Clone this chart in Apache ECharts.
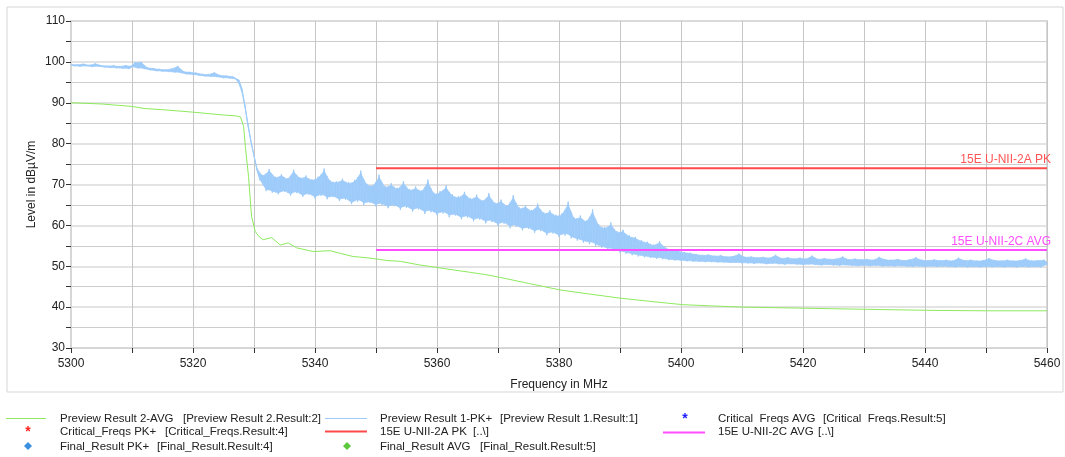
<!DOCTYPE html>
<html>
<head>
<meta charset="utf-8">
<script src="https://cdn.jsdelivr.net/npm/echarts@6/dist/echarts.min.js"></script>
<style>
html,body{margin:0;padding:0;background:#fff;}
#chart{width:1065px;height:457px;}
</style>
</head>
<body>
<div id="chart"></div>
<script>
// ---- DATA ----
const xTickLabels = [5300, 5320, 5340, 5360, 5380, 5400, 5420, 5440, 5460];
const yTickLabels = [30, 40, 50, 60, 70, 80, 90, 100, 110];

// Preview Result 1-PK+ : sampled every 0.5 MHz starting at 5300 MHz
const pkStart = 5300;
const pkStep = 0.5;
const pkLevel = [
  99.4, 99.0, 99.3, 98.9, 99.5, 99.0, 99.2, 98.8, 99.6, 98.9,
  99.1, 98.7, 99.0, 98.6, 99.1, 98.5, 98.9, 98.4, 99.2, 98.3,
  98.8, 99.9, 98.4, 100.0, 98.3, 98.6, 98.0, 98.4, 97.8, 98.2,
  97.7, 98.1, 97.6, 98.3, 97.4, 99.0, 97.3, 97.6, 97.0, 97.5,
  96.9, 97.3, 96.7, 97.0, 96.5, 96.9, 96.4, 97.4, 96.3, 96.7,
  96.1, 96.6, 96.0, 96.4, 95.8, 95.6, 93.5, 89.5, 84.5, 80.5,
  77.0, 73.5, 71.0, 72.3, 68.4, 73.8, 68.0, 71.9, 67.6, 72.5,
  68.2, 71.5, 67.3, 73.6, 67.9, 71.8, 67.0, 72.2, 67.5, 71.3,
  66.6, 71.9, 67.2, 73.9, 66.4, 71.0, 66.9, 70.8, 66.0, 71.4,
  66.3, 70.6, 65.2, 71.1, 65.8, 73.4, 65.0, 70.2, 65.5, 69.9,
  64.6, 72.4, 64.9, 69.6, 64.2, 70.3, 64.7, 69.2, 63.8, 70.8,
  64.3, 68.9, 63.4, 69.5, 63.9, 68.6, 62.8, 71.2, 63.2, 68.0,
  62.5, 68.4, 62.9, 69.8, 62.0, 67.6, 62.4, 67.1, 61.5, 68.2,
  61.9, 66.7, 61.0, 67.5, 61.4, 66.2, 60.5, 67.9, 60.8, 65.6,
  59.9, 66.3, 60.4, 64.9, 59.3, 67.4, 59.6, 64.4, 58.8, 64.9,
  59.1, 63.8, 58.2, 65.3, 58.6, 63.2, 57.6, 63.7, 58.0, 62.6,
  57.2, 63.0, 57.5, 65.8, 56.8, 61.9, 56.3, 62.4, 55.8, 61.2,
  55.4, 63.9, 54.9, 60.3, 54.5, 59.6, 54.0, 60.7, 53.7, 58.6,
  53.3, 58.9, 53.0, 57.6, 52.7, 57.2, 52.4, 56.4, 52.2, 56.0,
  52.0, 55.3, 51.8, 56.1, 51.7, 54.6, 51.5, 54.1, 51.4, 53.9,
  51.3, 53.5, 51.2, 53.3, 51.1, 53.0, 51.1, 52.8, 51.0, 52.9,
  51.0, 52.6, 50.9, 52.7, 50.9, 52.4, 50.8, 52.5, 50.8, 53.1,
  50.7, 52.3, 50.7, 52.4, 50.6, 52.2, 50.7, 52.3, 50.5, 52.1,
  50.6, 52.8, 50.5, 52.0, 50.4, 52.2, 50.5, 51.9, 50.4, 52.1,
  50.3, 51.9, 50.4, 52.6, 50.3, 51.8, 50.2, 52.0, 50.3, 51.8,
  50.2, 51.9, 50.1, 52.4, 50.2, 51.7, 50.1, 51.9, 50.0, 51.7,
  50.1, 51.8, 50.0, 51.6, 50.1, 52.3, 49.9, 51.7, 50.0, 51.6,
  49.9, 51.8, 50.0, 51.5, 49.9, 51.7, 49.8, 52.2, 49.9, 51.6,
  49.8, 51.5, 49.9, 51.7, 49.8, 51.5, 49.9, 51.6, 49.8, 51.4,
  49.7, 52.1, 49.8, 51.5, 49.7, 51.6, 49.8, 51.4, 49.7, 51.5,
  49.8, 52.0, 49.7, 51.5, 49.8, 51.4, 49.7, 51.6, 49.8, 51.4,
  49.7, 51.5, 49.8, 51.9, 49.7, 51.4, 49.8, 51.5, 49.7, 51.6,
  50.4
];

// Preview Result 2-AVG
const avgFreq = [5300, 5305, 5310, 5312, 5315, 5320, 5325, 5327, 5327.8, 5328.3, 5328.6, 5329.1, 5329.6, 5330.2, 5330.8, 5331.5, 5332.9, 5334.3, 5335.6, 5337, 5339.7, 5342.5, 5344, 5346.2, 5349, 5351.8, 5354, 5357.2, 5360, 5362.7, 5365.5, 5368.2, 5370.9, 5375, 5380.2, 5385, 5390, 5395, 5400.3, 5405, 5410.2, 5418, 5425, 5433, 5441.3, 5450, 5460];
const avgLevel = [90.0, 89.7, 89.1, 88.6, 88.3, 87.7, 87.0, 86.8, 86.5, 84.2, 79.0, 72.0, 62.2, 58.5, 57.3, 56.5, 57.0, 55.2, 55.7, 54.5, 53.6, 53.8, 53.2, 52.4, 52.0, 51.4, 51.2, 50.3, 49.7, 49.1, 48.5, 47.9, 47.1, 45.8, 44.2, 43.2, 42.2, 41.4, 40.6, 40.3, 40.0, 39.8, 39.6, 39.4, 39.2, 39.1, 39.1];

// Limit lines
const limitPkFreq = [5350, 5460];
const limitPkLevel = [74, 74];
const limitAvgFreq = [5350, 5460];
const limitAvgLevel = [54, 54];

const seriesNames = {
  avg: 'Preview Result 2-AVG',
  pk: 'Preview Result 1-PK+',
  limPk: '15E U-NII-2A PK',
  limAvg: '15E U-NII-2C AVG'
};
// legend entries: [name, bracket]
const legendItems = [
  [['Preview Result 2-AVG', '[Preview Result 2.Result:2]'], ['Preview Result 1-PK+', '[Preview Result 1.Result:1]'], ['Critical  Freqs AVG', '[Critical  Freqs.Result:5]']],
  [['Critical_Freqs PK+', '[Critical_Freqs.Result:4]'], ['15E U-NII-2A PK', '[..\\]'], ['15E U-NII-2C AVG', '[..\\]']],
  [['Final_Result PK+', '[Final_Result.Result:4]'], ['Final_Result AVG', '[Final_Result.Result:5]'], null]
];

// ---- BUILD ----
const pkData = pkLevel.map((v, i) => [pkStart + pkStep * i, v]);
const avgData = avgFreq.map((f, i) => [f, avgLevel[i]]);
// dense core of the noise trace, derived from the PK samples (local mean +/- part of local spread)
const n = pkLevel.length;
const core = pkLevel.map((v, i) => {
  const a = pkLevel[Math.max(i - 1, 0)], b = pkLevel[Math.min(i + 1, n - 1)];
  const m = (a + 2 * v + b) / 4;
  const h = 0.42 * Math.abs(v - (a + b) / 2);
  return [m - h, m + h];
});
const bandData = [];
for (let i = 0; i < n - 1; i++) {
  bandData.push([pkData[i][0], core[i][0], core[i][1], pkData[i + 1][0], core[i + 1][0], core[i + 1][1]]);
}

const FONT = 'Liberation Sans';
const TXT = '#222';
const colPkBlue = '#9dcbfa';
const colAvgGreen = '#8eea5e';
const colRed = '#ff4a4a';
const colMag = '#ff4dff';

const chart = echarts.init(document.getElementById('chart'), null, {renderer: 'canvas'});

// legend graphics
const colName = [60, 380, 718];
const bracketX = [[183, 500, 823], [165, 473, 818], [157, 480, 0]];
const rowY = [418.5, 432, 446.5];
const g = [];
g.push({type: 'rect', shape: {x: 7, y: 7, width: 1056, height: 385}, style: {fill: 'none', stroke: '#d6d6d6', lineWidth: 1}, silent: true, z: -1});
legendItems.forEach((row, r) => {
  row.forEach((it, c) => {
    if (!it) return;
    g.push({type: 'text', style: {x: colName[c], y: rowY[r], text: it[0], fill: TXT, font: '11.5px "Liberation Sans"', verticalAlign: 'middle'}});
    g.push({type: 'text', style: {x: bracketX[r][c], y: rowY[r], text: it[1], fill: TXT, font: '11.5px "Liberation Sans"', verticalAlign: 'middle'}});
  });
});
function lineSample(x1, x2, y, color, w) {
  g.push({type: 'line', shape: {x1: x1, y1: y, x2: x2, y2: y}, style: {stroke: color, lineWidth: w}});
}
lineSample(6, 46, 418.5, colAvgGreen, 1);
lineSample(325, 367, 418.5, colPkBlue, 1);
lineSample(325, 367, 431.5, colRed, 2);
lineSample(663, 705, 432.5, colMag, 2);
g.push({type: 'text', style: {x: 28, y: 432, text: '*', fill: '#ff2020', font: 'bold 14px "Liberation Sans"', align: 'center', verticalAlign: 'middle'}});
g.push({type: 'text', style: {x: 685, y: 419, text: '*', fill: '#1a1aff', font: 'bold 14px "Liberation Sans"', align: 'center', verticalAlign: 'middle'}});
g.push({type: 'polygon', shape: {points: [[28, 442], [32, 446], [28, 450], [24, 446]]}, style: {fill: '#3a8fe0'}});
g.push({type: 'polygon', shape: {points: [[347, 442], [351, 446], [347, 450], [343, 446]]}, style: {fill: '#5cc83c'}});

function limitMark(fr, lv, color, name) {
  return {
    silent: true, symbol: ['none', 'none'],
    lineStyle: {color: 'rgba(0,0,0,0)', width: 1, type: 'solid'},
    label: {show: true, position: 'insideEndTop', formatter: name, color: color, fontFamily: FONT, fontSize: 12, distance: [-4, 2]},
    emphasis: {disabled: true},
    data: [[{coord: [fr[0], lv[0]]}, {coord: [fr[fr.length - 1], lv[lv.length - 1]]}]]
  };
}

const option = {
  animation: false,
  backgroundColor: '#fff',
  grid: {left: 71, right: 18, top: 21, bottom: 109, show: true, borderColor: '#d9d9d9', borderWidth: 2, backgroundColor: 'transparent'},
  xAxis: {
    type: 'value', min: 5300, max: 5460, interval: 20,
    name: 'Frequency in MHz', nameLocation: 'middle', nameGap: 31, nameMoveOverlap: false,
    nameTextStyle: {fontFamily: FONT, fontSize: 12, color: TXT},
    axisLine: {show: true, lineStyle: {color: '#d6d6d6', width: 2}},
    axisTick: {show: true, length: 5, lineStyle: {color: '#333'}},
    minorTick: {show: true, splitNumber: 2, length: 5, lineStyle: {color: '#333'}},
    axisLabel: {fontFamily: FONT, fontSize: 12, color: TXT, margin: 10,
      formatter: v => xTickLabels.includes(v) ? String(v) : ''},
    splitLine: {show: true, lineStyle: {color: '#c6c6c6', width: 1}},
    minorSplitLine: {show: true, lineStyle: {color: '#c6c6c6', width: 1}}
  },
  yAxis: {
    type: 'value', min: 30, max: 110, interval: 10,
    name: 'Level in dBµV/m', nameLocation: 'middle', nameGap: 33, nameRotate: 90, nameMoveOverlap: false,
    nameTextStyle: {fontFamily: FONT, fontSize: 12, color: TXT},
    axisLine: {show: true, lineStyle: {color: '#d6d6d6', width: 2}},
    axisTick: {show: true, length: 5, lineStyle: {color: '#333'}},
    minorTick: {show: true, splitNumber: 2, length: 5, lineStyle: {color: '#333'}},
    axisLabel: {fontFamily: FONT, fontSize: 12, color: TXT, margin: 6,
      formatter: v => yTickLabels.includes(v) ? String(v) : ''},
    splitLine: {show: true, lineStyle: {color: '#dadada', width: 1.5}},
    minorSplitLine: {show: true, lineStyle: {color: '#cdcdcd', width: 1}}
  },
  series: [
    {name: seriesNames.pk + ' band', type: 'custom', data: bandData, z: 2, silent: true,
      encode: {x: [0, 3], y: [1, 2, 4, 5]},
      renderItem: (params, api) => {
        const p1 = api.coord([api.value(0), api.value(1)]);
        const p2 = api.coord([api.value(0), api.value(2)]);
        const p3 = api.coord([api.value(3), api.value(5)]);
        const p4 = api.coord([api.value(3), api.value(4)]);
        return {type: 'polygon', shape: {points: [p1, p2, p3, p4]}, style: {fill: colPkBlue, stroke: colPkBlue, lineWidth: 0.6}};
      }},
    {name: seriesNames.pk, type: 'line', data: pkData, showSymbol: false, symbol: 'none',
      lineStyle: {color: colPkBlue, width: 1}, z: 3},
    {name: seriesNames.avg, type: 'line', data: avgData, showSymbol: false, symbol: 'none',
      lineStyle: {color: colAvgGreen, width: 1}, z: 4},
    {name: seriesNames.limPk, type: 'line', data: limitPkFreq.map((f, i) => [f, limitPkLevel[i]]), symbol: 'none',
      lineStyle: {color: colRed, width: 2}, z: 5,
      markLine: limitMark(limitPkFreq, limitPkLevel, '#ff5555', seriesNames.limPk)},
    {name: seriesNames.limAvg, type: 'line', data: limitAvgFreq.map((f, i) => [f, limitAvgLevel[i]]), symbol: 'none',
      lineStyle: {color: colMag, width: 2}, z: 5,
      markLine: limitMark(limitAvgFreq, limitAvgLevel, colMag, seriesNames.limAvg)}
  ],
  graphic: g
};
chart.setOption(option);
</script>
</body>
</html>
